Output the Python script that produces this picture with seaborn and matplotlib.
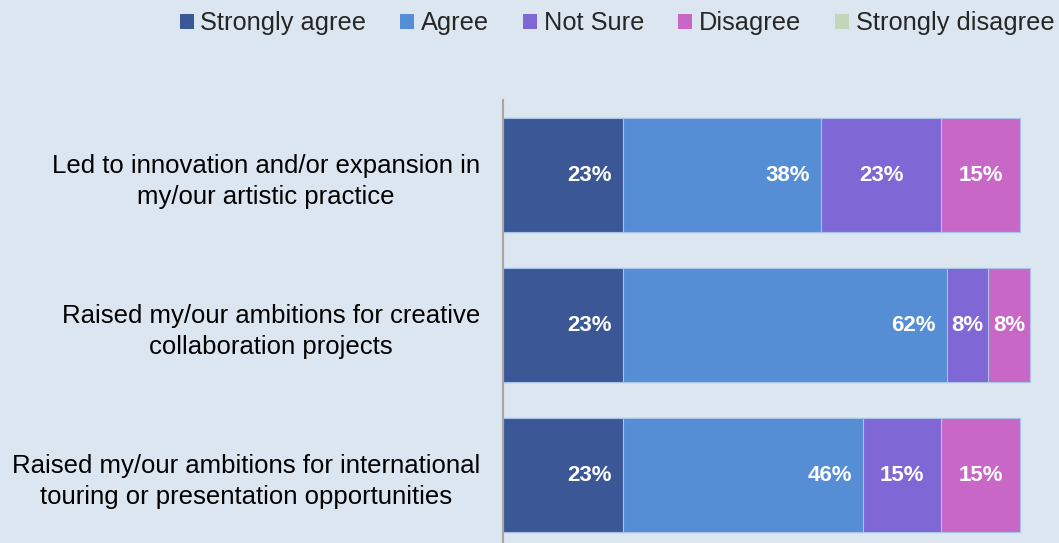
import matplotlib
matplotlib.use("Agg")
import matplotlib.pyplot as plt
from matplotlib.patches import Patch
import seaborn as sns
import pandas as pd
import numpy as np

# Survey statements and response shares (%)
statements = [
    "Led to innovation and/or expansion in\nmy/our artistic practice",
    "Raised my/our ambitions for creative\ncollaboration projects",
    "Raised my/our ambitions for international\ntouring or presentation opportunities",
]
responses = ["Strongly agree", "Agree", "Not Sure", "Disagree", "Strongly disagree"]
strongly_agree = [23, 23, 23]
agree = [38, 62, 46]
not_sure = [23, 8, 15]
disagree = [15, 8, 15]
strongly_disagree = [0, 0, 0]

colors = ["#3b5796", "#558ed5", "#7f67d6", "#c967c7", "#c3d6b9"]
bg = "#dce6f1"

series = [strongly_agree, agree, not_sure, disagree, strongly_disagree]
df = pd.DataFrame({r: v for r, v in zip(responses, series)}, index=statements)
cum = df.cumsum(axis=1)
starts = cum - df

sns.set_theme(style="white")
plt.rcParams["font.family"] = ["Liberation Sans", "DejaVu Sans"]

fig = plt.figure(figsize=(10.59, 5.43), dpi=100, facecolor=bg)
ax = fig.add_axes([503 / 1059, -7 / 543, 548 / 1059, 450 / 543])
ax.set_facecolor(bg)

# Stacked bars: draw cumulative totals from the outermost segment inwards
for resp, col in reversed(list(zip(responses, colors))):
    sns.barplot(x=cum[resp].values, y=statements, orient="h", color=col,
                width=0.76, edgecolor="#a9c4e6", linewidth=0.8,
                saturation=1, ax=ax)

# Value labels
pad = 2.1
for i, stmt in enumerate(statements):
    for j, resp in enumerate(responses):
        v = df.loc[stmt, resp]
        if v <= 0:
            continue
        s, e = starts.loc[stmt, resp], cum.loc[stmt, resp]
        if j < 2:
            x, ha = e - pad, "right"
        else:
            x, ha = (s + e) / 2, "center"
        ax.text(x, i, f"{v}%", ha=ha, va="center", color="white",
                fontsize=16, fontweight="bold")

ax.set_xlim(0, 105)
ax.set_ylim(2.5, -0.5)
ax.set_xlabel("")
ax.set_ylabel("")
ax.set_xticks([])
ax.tick_params(axis="y", length=0, pad=16.5, labelsize=18.5, colors="black")
for lbl in ax.get_yticklabels():
    lbl.set_multialignment("center")
    lbl.set_linespacing(1.38)
for side in ["top", "right", "bottom"]:
    ax.spines[side].set_visible(False)
ax.spines["left"].set_color("#a6a6a6")
ax.spines["left"].set_linewidth(1.5)

handles = [Patch(facecolor=c, edgecolor="none") for c in colors]
fig.legend(handles, responses, loc="upper right", bbox_to_anchor=(1.017, 1.021),
           ncol=5, frameon=False, fontsize=18.3, handlelength=0.55,
           handleheight=0.55, handletextpad=0.25, columnspacing=1.35)

fig.savefig("out.png", dpi=100, facecolor=bg)
